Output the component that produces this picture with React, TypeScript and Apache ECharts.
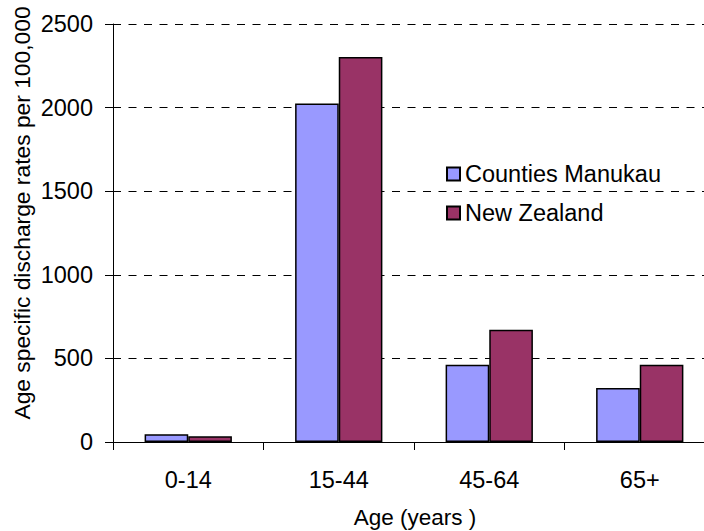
import React, { useEffect, useRef } from "react";
import * as echarts from "echarts";

const categories = ["0-14", "15-44", "45-64", "65+"];
const countiesManukau = [46, 2025, 462, 323];
const newZealand = [34, 2302, 672, 462];
const seriesNames = ["Counties Manukau", "New Zealand"];
const yTitle = "Age specific discharge rates per 100,000";
const xTitle = "Age (years )";

const FONT = "Liberation Sans, Arial, sans-serif";
const FS = 23.5;

export default function App() {
  const ref = useRef<HTMLDivElement>(null);
  useEffect(() => {
    document.body.style.margin = "0";
    const chart = echarts.init(ref.current!, null, { renderer: "svg" });
    chart.setOption({
      animation: false,
      backgroundColor: "#ffffff",
      textStyle: { fontFamily: FONT },
      grid: {
        left: 113,
        top: 24,
        width: 602,
        height: 418,
        containLabel: false,
        outerBoundsMode: "none",
      },
      legend: {
        orient: "vertical",
        left: 441,
        top: 157,
        itemWidth: 13,
        itemHeight: 13,
        itemGap: 15,
        icon: "rect",
        textStyle: { fontSize: FS, color: "#000", fontFamily: FONT },
        data: seriesNames,
      },
      graphic: [
        {
          type: "text",
          x: 22,
          y: 213,
          rotation: Math.PI / 2,
          style: {
            text: yTitle,
            fontSize: 22.8,
            fontFamily: FONT,
            fill: "#000",
            textAlign: "center",
            textVerticalAlign: "middle",
          },
        },
        {
          type: "text",
          x: 415,
          y: 517,
          style: {
            text: xTitle,
            fontSize: 22.5,
            fontFamily: FONT,
            fill: "#000",
            textAlign: "center",
            textVerticalAlign: "middle",
          },
        },
      ],
      xAxis: {
        type: "category",
        data: categories,
        boundaryGap: true,
        axisLine: { lineStyle: { color: "#000", width: 1 } },
        axisTick: { show: true, length: 8, alignWithLabel: false, lineStyle: { color: "#000" } },
        axisLabel: { fontSize: FS, color: "#000", margin: 26, fontFamily: FONT },
        splitLine: { show: false },
      },
      yAxis: {
        type: "value",
        min: 0,
        max: 2500,
        interval: 500,
        axisLine: { show: true, lineStyle: { color: "#000", width: 1 } },
        axisTick: { show: true, length: 8, lineStyle: { color: "#000" } },
        axisLabel: {
          fontSize: FS,
          color: "#000",
          margin: 20,
          fontFamily: FONT,
          formatter: (v: number) => String(v),
        },
        splitLine: { show: true, lineStyle: { color: "#000", type: [8, 7.5], width: 1 } },
      },
      series: [
        {
          name: seriesNames[0],
          type: "bar",
          data: countiesManukau,
          barGap: "0%",
          barCategoryGap: "42%",
          itemStyle: { color: "#9999FF", borderColor: "#000", borderWidth: 1.5 },
        },
        {
          name: seriesNames[1],
          type: "bar",
          data: newZealand,
          barGap: "0%",
          barCategoryGap: "42%",
          itemStyle: { color: "#993366", borderColor: "#000", borderWidth: 1.5 },
        },
      ],
    });
    return () => chart.dispose();
  }, []);
  return <div ref={ref} style={{ width: 704, height: 531 }} />;
}
